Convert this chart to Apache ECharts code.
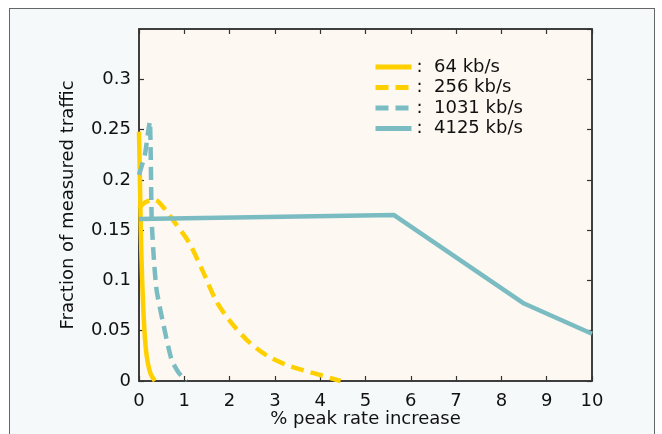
<!DOCTYPE html>
<html>
<head>
<meta charset="utf-8">
<script src="https://cdn.jsdelivr.net/npm/echarts@6/dist/echarts.min.js"></script>
<style>
html,body{margin:0;padding:0;background:#fff;}
#wrap{position:relative;width:662px;height:434px;overflow:hidden;background:#fff;}
#frame{position:absolute;left:9px;top:8px;width:646px;height:440px;box-sizing:border-box;border:1.5px solid #666;background:#f5f9fa;}
#plotbg{position:absolute;background:#fdf8f1;}
#chart{position:absolute;left:0;top:0;width:662px;height:434px;}
</style>
</head>
<body>
<div id="wrap"><div id="frame"></div><div id="plotbg"></div><div id="chart"></div></div>
<script>
// Data
var seriesNames = ['64 kb/s', '256 kb/s', '1031 kb/s', '4125 kb/s'];
var x64 = [0.0, 0.02, 0.04, 0.07, 0.12, 0.17, 0.25, 0.35];
var y64 = [0.248, 0.2, 0.15, 0.1, 0.05, 0.025, 0.008, 0.0];
var x256 = [0.0, 0.15, 0.35, 0.55, 0.8, 1.1, 1.4, 1.7, 2.0, 2.4, 2.8, 3.2, 3.6, 4.0, 4.45];
var y256 = [0.172, 0.178, 0.18, 0.172, 0.157, 0.138, 0.11, 0.08, 0.06, 0.04, 0.026, 0.017, 0.011, 0.006, 0.0];
var x1031 = [0.0, 0.13, 0.2, 0.24, 0.26, 0.28, 0.33, 0.39, 0.53, 0.72, 0.88, 1.05];
var y1031 = [0.205, 0.225, 0.247, 0.258, 0.22, 0.16, 0.12, 0.09, 0.058, 0.021, 0.008, 0.0];
var x4125 = [0.0, 5.63, 8.5, 10.0];
var y4125 = [0.161, 0.165, 0.077, 0.047];
var xTitle = '% peak rate increase';
var yTitle = 'Fraction of measured traffic';
var xTicks = {min: 0, max: 10, interval: 1};
var yTicks = {min: 0, max: 0.35, interval: 0.05};

function pairs(xs, ys) { return xs.map(function (x, i) { return [x, ys[i]]; }); }

var YELLOW = '#FFD000';
var TEAL = '#7BBCC3';
var FONT = 'DejaVu Sans';
var FS = 18;
var GRID = {left: 139, top: 29, width: 453, height: 352};
var bg = document.getElementById('plotbg');
bg.style.left = GRID.left + 'px'; bg.style.top = GRID.top + 'px';
bg.style.width = GRID.width + 'px'; bg.style.height = GRID.height + 'px';

var hiddenSplit = {show: true, lineStyle: {color: 'rgba(0,0,0,0)', width: 0}};
function tick() { return {show: true, inside: true, length: 5, lineStyle: {color: '#333', width: 1.2}}; }

var chart = echarts.init(document.getElementById('chart'));
var option = {
  animation: false,
  backgroundColor: 'transparent',
  graphic: [{
    type: 'text', silent: true,
    x: GRID.left + GRID.width / 2, y: 419,
    style: {text: xTitle, font: FS + 'px "' + FONT + '"', fill: '#111', align: 'center', verticalAlign: 'middle'}
  }, {
    type: 'text', silent: true, rotation: Math.PI / 2,
    x: 68, y: GRID.top + GRID.height / 2,
    style: {text: yTitle, font: FS + 'px "' + FONT + '"', fill: '#111', align: 'center', verticalAlign: 'middle'}
  }],
  grid: {left: GRID.left, top: GRID.top, width: GRID.width, height: GRID.height,
         show: true, backgroundColor: 'transparent', borderColor: '#333', borderWidth: 1.5},
  legend: {
    orient: 'vertical', left: 368, top: 53,
    itemWidth: 36, itemHeight: 14, itemGap: 2.5,
    itemStyle: {opacity: 0},
    lineStyle: {width: 5},
    formatter: function (n) { return ':  ' + n; },
    textStyle: {fontFamily: FONT, fontSize: FS, color: '#111'},
    data: seriesNames
  },
  xAxis: [{
    type: 'value', min: xTicks.min, max: xTicks.max, interval: xTicks.interval,
    axisLine: {show: true, lineStyle: {color: '#333', width: 1.5}}, axisTick: tick(),
    axisLabel: {fontFamily: FONT, fontSize: FS, color: '#111', margin: 11},
    splitLine: hiddenSplit
  }, {
    type: 'value', position: 'top', min: xTicks.min, max: xTicks.max, interval: xTicks.interval,
    axisLine: {show: true, onZero: false, lineStyle: {color: '#333', width: 1.5}}, axisTick: tick(),
    axisLabel: {show: false}, splitLine: hiddenSplit
  }],
  yAxis: [{
    type: 'value', min: yTicks.min, max: yTicks.max, interval: yTicks.interval,
    axisLine: {show: true, lineStyle: {color: '#333', width: 1.5}}, axisTick: tick(),
    axisLabel: {fontFamily: FONT, fontSize: FS, color: '#111', margin: 8, showMaxLabel: false},
    splitLine: hiddenSplit
  }, {
    type: 'value', position: 'right', min: yTicks.min, max: yTicks.max, interval: yTicks.interval,
    axisLine: {show: true, onZero: false, lineStyle: {color: '#333', width: 1.5}}, axisTick: tick(),
    axisLabel: {show: false}, splitLine: hiddenSplit
  }],
  series: [
    {name: seriesNames[0], type: 'line', data: pairs(x64, y64), smooth: 0.3, symbol: 'none', clip: false,
     lineStyle: {color: YELLOW, width: 4.5, type: 'solid'}, itemStyle: {color: YELLOW}},
    {name: seriesNames[1], type: 'line', data: pairs(x256, y256), smooth: 0.3, symbol: 'none', clip: false,
     lineStyle: {color: YELLOW, width: 4.5, type: [13, 7]}, itemStyle: {color: YELLOW}},
    {name: seriesNames[2], type: 'line', data: pairs(x1031, y1031), smooth: 0.2, symbol: 'none', clip: false,
     lineStyle: {color: TEAL, width: 4.5, type: [13, 7]}, itemStyle: {color: TEAL}},
    {name: seriesNames[3], type: 'line', data: pairs(x4125, y4125), symbol: 'none', clip: false,
     lineStyle: {color: TEAL, width: 4.5, type: 'solid'}, itemStyle: {color: TEAL}}
  ]
};
chart.setOption(option);
</script>
</body>
</html>
